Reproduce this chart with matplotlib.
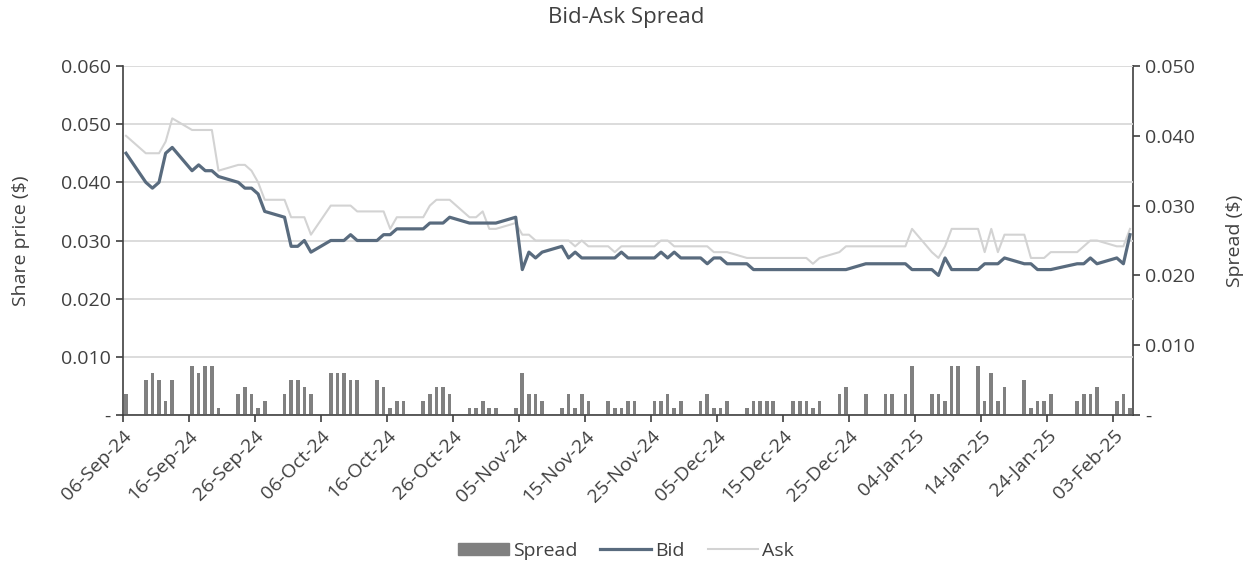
import datetime as dt
import pandas as pd
import matplotlib
matplotlib.use('Agg')
import matplotlib.pyplot as plt
import matplotlib.dates as mdates
from matplotlib.ticker import FuncFormatter, FixedLocator
from matplotlib.patches import Patch
from matplotlib.lines import Line2D

# trading days (ASX), 06-Sep-24 .. 05-Feb-25
holidays = ['2024-12-25', '2024-12-26', '2025-01-01', '2025-01-27']
days = [d for d in pd.bdate_range('2024-09-06', '2025-02-05') if d.strftime('%Y-%m-%d') not in holidays]

bid = [0.045, 0.040, 0.039, 0.040, 0.045, 0.046,
       0.042, 0.043, 0.042, 0.042, 0.041,
       0.040, 0.039, 0.039, 0.038, 0.035,
       0.034, 0.029, 0.029, 0.030, 0.028,
       0.030, 0.030, 0.030, 0.031, 0.030,
       0.030, 0.031, 0.031, 0.032, 0.032,
       0.032, 0.033, 0.033, 0.033, 0.034,
       0.033, 0.033, 0.033, 0.033, 0.033,
       0.034, 0.025, 0.028, 0.027, 0.028,
       0.029, 0.027, 0.028, 0.027, 0.027,
       0.027, 0.027, 0.028, 0.027, 0.027,
       0.027, 0.028, 0.027, 0.028, 0.027,
       0.027, 0.026, 0.027, 0.027, 0.026,
       0.026, 0.025, 0.025, 0.025, 0.025,
       0.025, 0.025, 0.025, 0.025, 0.025,
       0.025, 0.025, 0.026,
       0.026, 0.026, 0.026, 0.025,
       0.025, 0.024, 0.027, 0.025, 0.025,
       0.025, 0.026, 0.026, 0.026, 0.027,
       0.026, 0.026, 0.025, 0.025, 0.025,
       0.026, 0.026, 0.027, 0.026,
       0.027, 0.026, 0.031]

ask = [0.048, 0.045, 0.045, 0.045, 0.047, 0.051,
       0.049, 0.049, 0.049, 0.049, 0.042,
       0.043, 0.043, 0.042, 0.040, 0.037,
       0.037, 0.034, 0.034, 0.034, 0.031,
       0.036, 0.036, 0.036, 0.036, 0.035,
       0.035, 0.035, 0.032, 0.034, 0.034,
       0.034, 0.036, 0.037, 0.037, 0.037,
       0.034, 0.034, 0.035, 0.032, 0.032,
       0.033, 0.031, 0.031, 0.030, 0.030,
       0.030, 0.030, 0.029, 0.030, 0.029,
       0.029, 0.028, 0.029, 0.029, 0.029,
       0.029, 0.030, 0.030, 0.029, 0.029,
       0.029, 0.029, 0.028, 0.028, 0.028,
       0.027, 0.027, 0.027, 0.027, 0.027,
       0.027, 0.027, 0.027, 0.026, 0.027,
       0.028, 0.029, 0.029,
       0.029, 0.029, 0.029, 0.032,
       0.028, 0.027, 0.029, 0.032, 0.032,
       0.032, 0.028, 0.032, 0.028, 0.031,
       0.031, 0.027, 0.027, 0.027, 0.028,
       0.028, 0.029, 0.030, 0.030,
       0.029, 0.029, 0.032]

spread = [0.003, 0.005, 0.006, 0.005, 0.002, 0.005,
          0.007, 0.006, 0.007, 0.007, 0.001,
          0.003, 0.004, 0.003, 0.001, 0.002,
          0.003, 0.005, 0.005, 0.004, 0.003,
          0.006, 0.006, 0.006, 0.005, 0.005,
          0.005, 0.004, 0.001, 0.002, 0.002,
          0.002, 0.003, 0.004, 0.004, 0.003,
          0.001, 0.001, 0.002, 0.001, 0.001,
          0.001, 0.006, 0.003, 0.003, 0.002,
          0.001, 0.003, 0.001, 0.003, 0.002,
          0.002, 0.001, 0.001, 0.002, 0.002,
          0.002, 0.002, 0.003, 0.001, 0.002,
          0.002, 0.003, 0.001, 0.001, 0.002,
          0.001, 0.002, 0.002, 0.002, 0.002,
          0.002, 0.002, 0.002, 0.001, 0.002,
          0.003, 0.004, 0.003,
          0.003, 0.003, 0.003, 0.007,
          0.003, 0.003, 0.002, 0.007, 0.007,
          0.007, 0.002, 0.006, 0.002, 0.004,
          0.005, 0.001, 0.002, 0.002, 0.003,
          0.002, 0.003, 0.003, 0.004,
          0.002, 0.003, 0.001]

plt.rcParams['font.family'] = ['Open Sans', 'DejaVu Sans']
txt = '#404040'
spine = '#404040'

x = [d + pd.Timedelta(hours=12) for d in days]

fig = plt.figure(figsize=(12.52, 5.67), dpi=100)
ax = fig.add_axes([122.7 / 1252, 1 - 415 / 567, (1133.3 - 122.7) / 1252, (415 - 66) / 567])
ax2 = ax.twinx()

ax2.bar(x, spread, width=0.55, color='#808080', label='Spread')
ax.plot(x, ask, color='#d3d3d3', lw=1.5, label='Ask')
ax.plot(x, bid, color='#596b7e', lw=2.3, label='Bid')

ax.set_zorder(ax2.get_zorder() + 1)
ax.patch.set_visible(False)

start = dt.datetime(2024, 9, 6)
ax.set_xlim(start, dt.datetime(2025, 2, 6))
ax.set_ylim(0, 0.060)
ax2.set_ylim(0, 0.050)

ticks = [start + dt.timedelta(days=10 * i) for i in range(16)]
ax.xaxis.set_major_locator(FixedLocator(mdates.date2num(ticks)))
ax.xaxis.set_major_formatter(mdates.DateFormatter('%d-%b-%y'))
plt.setp(ax.get_xticklabels(), rotation=45, ha='right', rotation_mode='anchor')

fmt = FuncFormatter(lambda v, p: '-' if abs(v) < 1e-9 else '%.3f' % v)
ax.set_yticks([0, 0.01, 0.02, 0.03, 0.04, 0.05, 0.06])
ax.yaxis.set_major_formatter(fmt)
ax2.set_yticks([0, 0.01, 0.02, 0.03, 0.04, 0.05])
ax2.yaxis.set_major_formatter(fmt)

ax.grid(axis='y', color='#d9d9d9', lw=1.3)
ax.set_axisbelow(True)

for a in (ax, ax2):
    a.spines['top'].set_visible(False)
    for s in ('left', 'right', 'bottom'):
        a.spines[s].set_color(spine)
        a.spines[s].set_linewidth(1.2)
    a.tick_params(colors=txt, labelsize=14, length=5, width=1.2)
ax.spines['right'].set_visible(False)
ax2.spines['left'].set_visible(False)
ax2.spines['bottom'].set_visible(False)

ax.set_ylabel('Share price ($)', color=txt, fontsize=14, labelpad=22)
ax2.set_ylabel('Spread ($)', color=txt, fontsize=14, labelpad=22)
fig.text(0.5, 1 - 18 / 567, 'Bid-Ask Spread', ha='center', va='center', color=txt, fontsize=16)

handles = [Patch(color='#808080'),
           Line2D([], [], color='#596b7e', lw=2.3),
           Line2D([], [], color='#d3d3d3', lw=1.5)]
fig.legend(handles, ['Spread', 'Bid', 'Ask'], loc='center', bbox_to_anchor=(0.5, 1 - 551 / 567),
           ncol=3, frameon=False, fontsize=14, handlelength=2.6, handleheight=0.6,
           handletextpad=0.2, columnspacing=1.2, labelcolor=txt)

fig.savefig('out.png', dpi=100)
